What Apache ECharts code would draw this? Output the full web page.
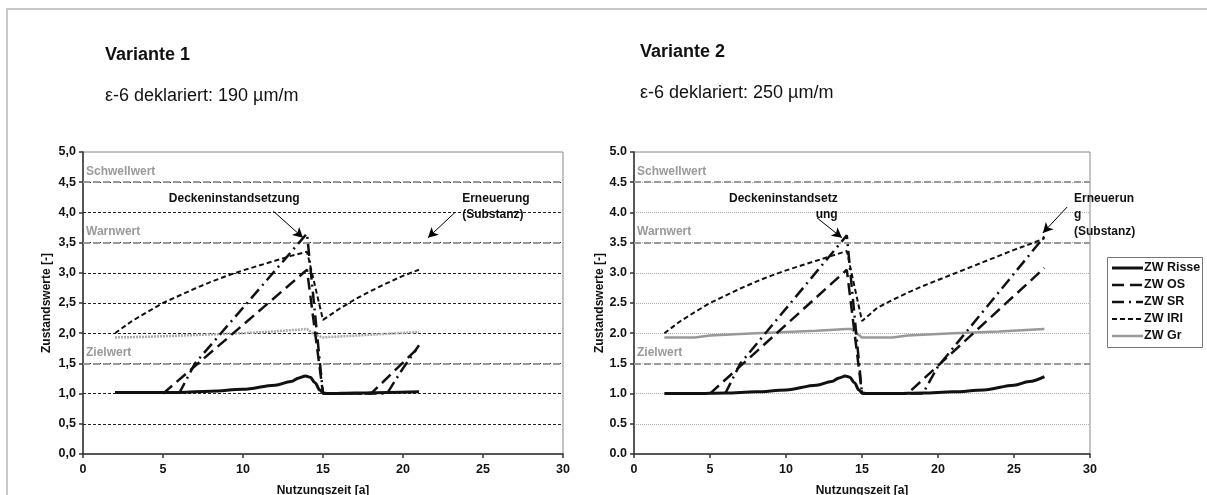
<!DOCTYPE html>
<html>
<head>
<meta charset="utf-8">
<script src="https://cdn.jsdelivr.net/npm/echarts@6/dist/echarts.min.js"></script>
<style>
html,body{margin:0;padding:0;background:#fff;}
#c{width:1207px;height:495px;}
</style>
</head>
<body>
<div id="c"></div>
<script>
// ---------- DATA ----------
const xTicks = [0, 5, 10, 15, 20, 25, 30];
const thresholdValues = [4.5, 3.5, 1.5];
const thresholdNames = ['Schwellwert', 'Warnwert', 'Zielwert'];
const legendNames = ['ZW Risse', 'ZW OS', 'ZW SR', 'ZW IRI', 'ZW Gr'];

// Variante 1
const risse1X = [2, 4, 6, 8, 10, 12, 13, 13.5, 13.9, 14.2, 14.5, 14.8, 15, 15.3, 17, 19, 21];
const risse1Y = [1.02, 1.02, 1.02, 1.04, 1.07, 1.14, 1.2, 1.26, 1.29, 1.27, 1.18, 1.06, 1.01, 1.0, 1.01, 1.02, 1.03];
const os1X = [5, 14, 15, 18, 21];
const os1Y = [1.0, 3.05, 1.0, 1.0, 1.77];
const sr1X = [6, 7, 14, 15, 19, 20, 21];
const sr1Y = [1.0, 1.5, 3.65, 1.0, 1.0, 1.42, 1.8];
const iri1X = [2, 3, 4, 5, 6, 7, 8, 9, 10, 11, 12, 13, 14, 15, 16, 17, 18, 19, 20, 21];
const iri1Y = [2.0, 2.19, 2.35, 2.5, 2.62, 2.74, 2.85, 2.95, 3.04, 3.12, 3.2, 3.28, 3.35, 2.22, 2.4, 2.56, 2.7, 2.83, 2.95, 3.05];
const gr1X = [2, 4, 6, 8, 10, 12, 14, 14.5, 15, 17, 19, 21];
const gr1Y = [1.93, 1.94, 1.96, 1.98, 2.0, 2.03, 2.07, 1.97, 1.93, 1.96, 1.99, 2.02];

// Variante 2
const risse2X = [2, 4, 6, 8, 10, 12, 13, 13.5, 13.9, 14.2, 14.5, 14.8, 15, 15.3, 17, 19, 21, 23, 25, 26, 27];
const risse2Y = [1.0, 1.0, 1.01, 1.03, 1.06, 1.14, 1.2, 1.26, 1.29, 1.27, 1.18, 1.06, 1.01, 1.0, 1.0, 1.01, 1.03, 1.06, 1.14, 1.2, 1.28];
const os2X = [5, 14, 15, 18, 27];
const os2Y = [1.0, 3.05, 1.0, 1.0, 3.08];
const sr2X = [6, 7, 14, 15, 19, 20, 27];
const sr2Y = [1.0, 1.5, 3.62, 1.0, 1.0, 1.45, 3.6];
const iri2X = [2, 3, 4, 5, 6, 7, 8, 9, 10, 11, 12, 13, 14, 15, 16, 17, 18, 19, 20, 21, 22, 23, 24, 25, 26, 27];
const iri2Y = [2.0, 2.19, 2.35, 2.5, 2.62, 2.74, 2.85, 2.95, 3.04, 3.12, 3.2, 3.28, 3.36, 2.2, 2.42, 2.55, 2.67, 2.78, 2.88, 2.98, 3.08, 3.18, 3.28, 3.38, 3.47, 3.57];
const gr2X = [2, 4, 5, 8, 10, 12, 14, 14.3, 15, 17, 18, 21, 24, 27];
const gr2Y = [1.93, 1.93, 1.96, 2.0, 2.02, 2.04, 2.07, 2.07, 1.93, 1.93, 1.96, 2.0, 2.03, 2.07];

// Annotations (data coordinates)
const annoTexts1 = ['Deckeninstandsetzung', 'Erneuerung\n(Substanz)'];
const annoPos1 = [[9.45, 4.37], [23.7, 4.37]];
const arrows1 = [[[11.9, 4.02], [13.75, 3.58]], [[23.25, 4.0], [21.56, 3.58]]];
const annoTexts2 = ['Deckeninstandsetz\nung', 'Erneuerun\ng\n(Substanz)'];
const annoPos2 = [[13.4, 4.37], [28.95, 4.37]];
const arrows2 = [[[12.04, 3.91], [13.68, 3.58]], [[28.5, 4.09], [26.9, 3.66]]];

// ---------- CHART ----------
const FONT = '"Liberation Sans", Arial, sans-serif';
const pairs = (xs, ys) => xs.map((x, i) => [x, ys[i]]);

const chart = echarts.init(document.getElementById('c'), null, {renderer: 'canvas'});

const styles = {
  risse: {color: '#111', width: 3, type: 'solid'},
  os: {color: '#111', width: 2.5, type: [12, 6]},
  sr: {color: '#111', width: 2.5, type: [12, 5, 2, 5]},
  iri: {color: '#111', width: 2, type: [5, 3]},
  gr2: {color: '#999', width: 2.5, type: 'solid'},
  gr1: {color: '#aaa', width: 2.5, type: [2, 1]}
};
const legendStyles = [styles.risse, styles.os, styles.sr, styles.iri, styles.gr2];

function line(name, idx, data, st, z, smooth) {
  return {
    name: name, type: 'line', xAxisIndex: idx, yAxisIndex: idx,
    data: data, symbol: 'none', showSymbol: false, smooth: smooth || false,
    smoothMonotone: 'x',
    lineStyle: {color: st.color, width: st.width, type: st.type},
    itemStyle: {color: st.color},
    z: z, animation: false, silent: true
  };
}

function refSeries(idx) {
  return {
    name: 'ref' + idx, type: 'line', xAxisIndex: idx, yAxisIndex: idx, data: [],
    animation: false, silent: true, z: 3,
    markLine: {
      silent: true, symbol: ['none', 'none'], animation: false,
      lineStyle: {color: '#9a9a9a', width: 2, type: [7, 3]},
      label: {
        show: true, position: 'insideStartTop', distance: [3, 5],
        color: '#9a9a9a', fontWeight: 'bold', fontSize: 12, fontFamily: FONT,
        formatter: p => p.name
      },
      data: thresholdValues.map((v, i) => ({yAxis: v, name: thresholdNames[i]}))
    }
  };
}

function annoSeries(idx, texts, pos, arrows, align) {
  return {
    name: 'anno' + idx, type: 'line', xAxisIndex: idx, yAxisIndex: idx, data: [],
    animation: false, silent: true, z: 10,
    markLine: {
      silent: true, animation: false, symbol: ['none', 'arrow'], symbolSize: [8, 10],
      lineStyle: {color: '#000', width: 1, type: 'solid'},
      label: {show: false},
      data: arrows.map(a => [{coord: a[0]}, {coord: a[1]}])
    },
    markPoint: {
      silent: true, animation: false, symbol: 'circle', symbolSize: 0,
      itemStyle: {color: 'rgba(0,0,0,0)'},
      label: {
        show: true, position: [0, 0], verticalAlign: 'top',
        color: '#111', fontWeight: 'bold', fontSize: 12, fontFamily: FONT, lineHeight: 16.5,
        formatter: p => p.name
      },
      data: texts.map((t, i) => ({coord: pos[i], name: t, label: {align: align[i]}}))
    }
  };
}

function yAxis(idx, fmt) {
  return {
    type: 'value', gridIndex: idx, min: 0, max: 5, interval: 0.5,
    name: 'Zustandswerte [-]', nameLocation: 'middle', nameRotate: 90,
    nameGap: idx === 0 ? 30 : 26,
    nameTextStyle: {fontWeight: 'bold', fontSize: 12, color: '#111', fontFamily: FONT},
    axisLine: {show: true, lineStyle: {color: '#333', width: 1.5}},
    axisTick: {show: true, inside: false, length: 4, lineStyle: {color: '#333', width: 1.5}},
    axisLabel: {formatter: fmt, fontWeight: 'bold', fontSize: 12.5, color: '#111', fontFamily: FONT, margin: 7},
    splitLine: {
      show: true, showMinLine: false, showMaxLine: false,
      lineStyle: idx === 0 ? {color: '#222', width: 1, type: [3, 2]} : {color: '#aaa', width: 1, type: [1, 1]}
    }
  };
}

function xAxis(idx) {
  return {
    type: 'value', gridIndex: idx, min: 0, max: 30, interval: 5,
    name: 'Nutzungszeit [a]', nameLocation: 'middle', nameGap: 31,
    nameTextStyle: {fontWeight: 'bold', fontSize: 12, color: '#111', fontFamily: FONT},
    axisLine: {show: true, onZero: false, lineStyle: {color: '#333', width: 1.5}},
    axisTick: {show: true, inside: false, length: 4, lineStyle: {color: '#333', width: 1.5}},
    axisLabel: {
      fontWeight: 'bold', fontSize: 12.5, color: '#111', fontFamily: FONT, margin: 9,
      formatter: v => (xTicks.indexOf(v) >= 0 ? String(v) : '')
    },
    splitLine: {show: false}
  };
}

// manual legend (line samples with dash patterns, no symbols)
const LX = 1107, LY = 257, LW = 95, LH = 90, ROW0 = 268, ROWH = 17;
const legendGraphic = [{
  type: 'rect', silent: true, z: 20,
  shape: {x: LX + 0.5, y: LY + 0.5, width: LW, height: LH},
  style: {fill: '#fff', stroke: '#777', lineWidth: 1}
}];
legendNames.forEach((n, i) => {
  const st = legendStyles[i];
  const y = ROW0 + i * ROWH;
  legendGraphic.push({
    type: 'line', silent: true, z: 21,
    shape: {x1: LX + 5, y1: y, x2: LX + 36, y2: y},
    style: {stroke: st.color, lineWidth: st.width, lineDash: st.type === 'solid' ? null : st.type}
  });
  legendGraphic.push({
    type: 'text', silent: true, z: 21,
    style: {text: n, x: LX + 37, y: y, fill: '#111', font: 'bold 12.5px ' + FONT, verticalAlign: 'middle', align: 'left'}
  });
});

const option = {
  backgroundColor: '#fff',
  animation: false,
  textStyle: {fontFamily: FONT},
  title: [
    {text: 'Variante 1', left: 105, top: 46, padding: 0, textStyle: {fontSize: 18, fontWeight: 'bold', color: '#111', fontFamily: FONT}},
    {text: 'ε-6 deklariert: 190 µm/m', left: 105, top: 87, padding: 0, textStyle: {fontSize: 18, fontWeight: 'normal', color: '#111', fontFamily: FONT}},
    {text: 'Variante 2', left: 640, top: 43, padding: 0, textStyle: {fontSize: 18, fontWeight: 'bold', color: '#111', fontFamily: FONT}},
    {text: 'ε-6 deklariert: 250 µm/m', left: 640, top: 84, padding: 0, textStyle: {fontSize: 18, fontWeight: 'normal', color: '#111', fontFamily: FONT}}
  ],
  graphic: [{
    type: 'rect', silent: true, z: -1,
    shape: {x: 7, y: 9, width: 1400, height: 700},
    style: {fill: 'none', stroke: '#c8c8c8', lineWidth: 2}
  }].concat(legendGraphic),
  grid: [
    {left: 83, top: 152, width: 480, height: 302, outerBoundsMode: 'none', containLabel: false, show: true, borderColor: '#888', borderWidth: 1, backgroundColor: 'transparent'},
    {left: 634, top: 152, width: 456, height: 302, outerBoundsMode: 'none', containLabel: false, show: true, borderColor: '#888', borderWidth: 1, backgroundColor: 'transparent'}
  ],
  xAxis: [xAxis(0), xAxis(1)],
  yAxis: [
    yAxis(0, v => v.toFixed(1).replace('.', ',')),
    yAxis(1, v => v.toFixed(1))
  ],
  series: [
    refSeries(0), refSeries(1),
    line('ZW Gr V1', 0, pairs(gr1X, gr1Y), styles.gr1, 4),
    line('ZW IRI V1', 0, pairs(iri1X, iri1Y), styles.iri, 5),
    line('ZW OS V1', 0, pairs(os1X, os1Y), styles.os, 5),
    line('ZW SR V1', 0, pairs(sr1X, sr1Y), styles.sr, 5),
    line('ZW Risse V1', 0, pairs(risse1X, risse1Y), styles.risse, 6, 0.35),
    line('ZW Risse', 1, pairs(risse2X, risse2Y), styles.risse, 6, 0.35),
    line('ZW OS', 1, pairs(os2X, os2Y), styles.os, 5),
    line('ZW SR', 1, pairs(sr2X, sr2Y), styles.sr, 5),
    line('ZW IRI', 1, pairs(iri2X, iri2Y), styles.iri, 5),
    line('ZW Gr', 1, pairs(gr2X, gr2Y), styles.gr2, 4),
    annoSeries(0, annoTexts1, annoPos1, arrows1, ['center', 'left']),
    annoSeries(1, annoTexts2, annoPos2, arrows2, ['right', 'left'])
  ]
};
chart.setOption(option);
</script>
</body>
</html>
